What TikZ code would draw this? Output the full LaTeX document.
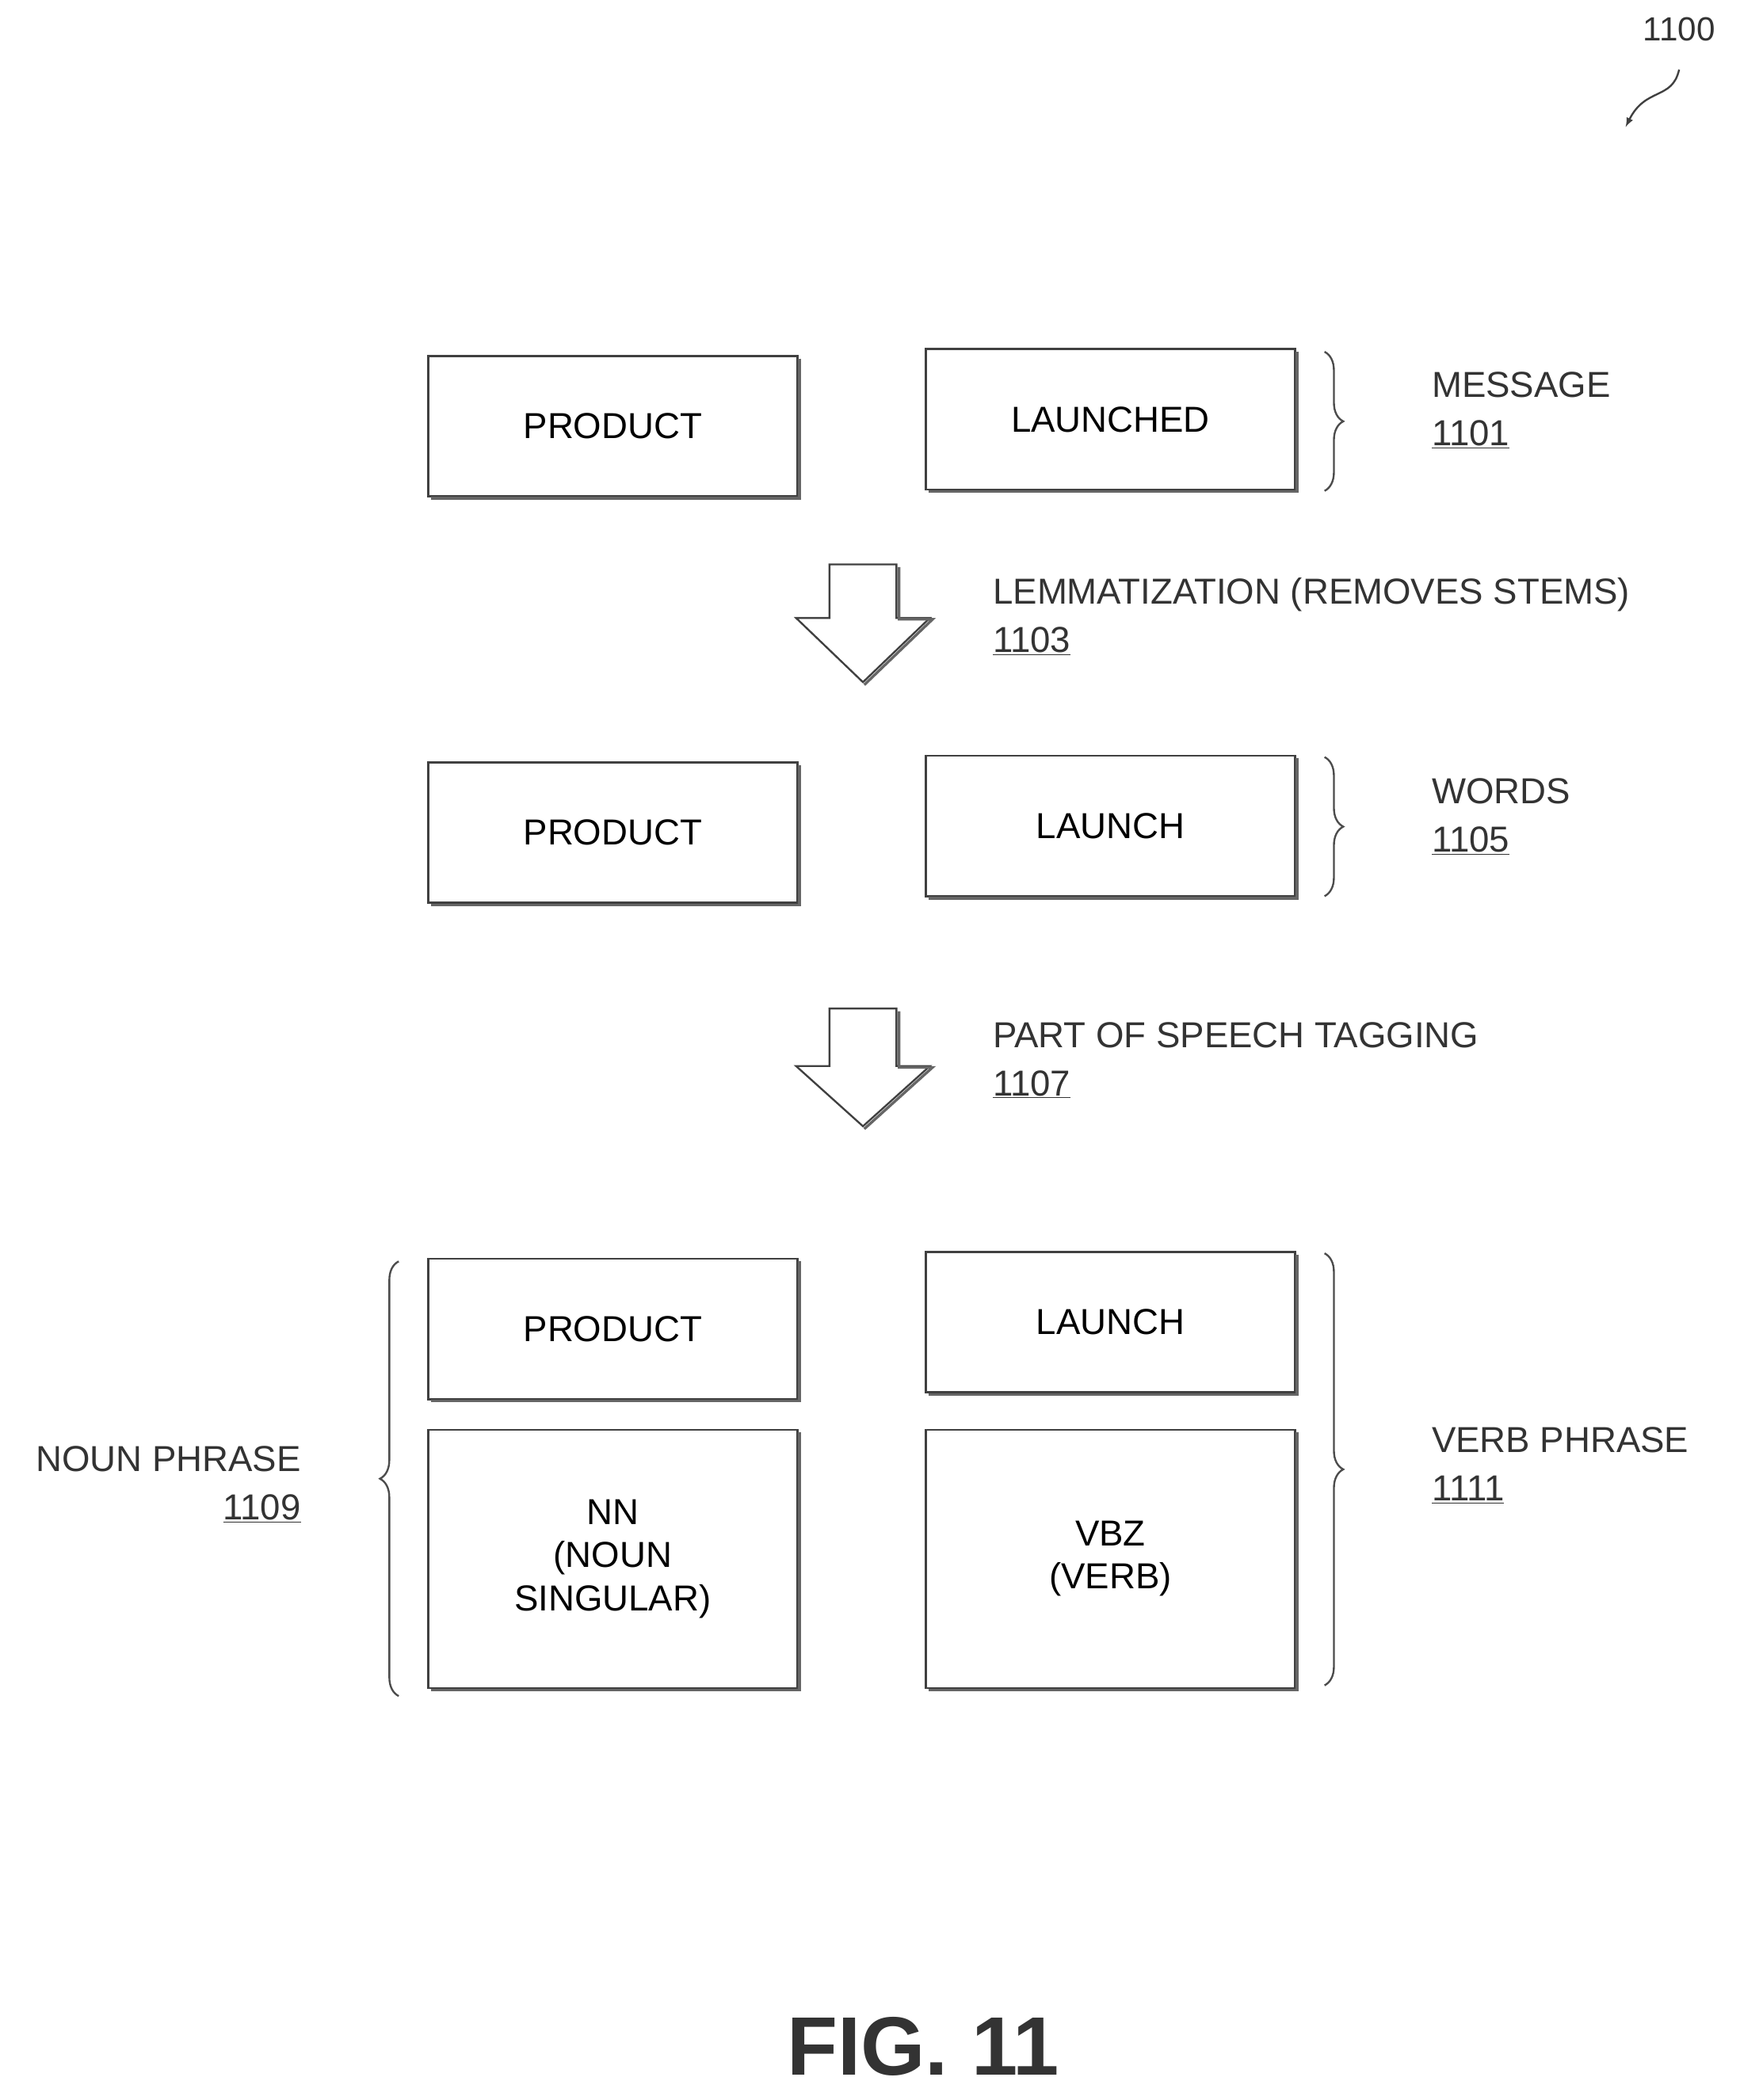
\documentclass[tikz,border=0pt]{standalone}
\usepackage{fontspec}
\setmainfont{Liberation Sans}
\usetikzlibrary{decorations.pathreplacing}
\begin{document}
\begin{tikzpicture}[x=1pt,y=-1pt,
  box/.style={draw=black!75,line width=1.6pt,fill=white,inner sep=0pt,font=\fontsize{27}{32}\selectfont,align=center},
  lbl/.style={font=\fontsize{27}{36}\selectfont,align=left,anchor=north west,inner sep=0pt,text=black!80},
  brc/.style={draw=black!70,line width=1.4pt,decorate,decoration={brace,amplitude=14pt}},
  barrow/.style={draw=black!75,line width=1.4pt,fill=white}]
\useasboundingbox (0,0) rectangle (1300,1570);
\newcommand{\bx}[6]{\node[box,minimum width=#4-#2,minimum height=#5-#3] (#1) at ({(#2+#4)/2},{(#3+#5)/2}) {#6};
  \draw[black!60,line width=2pt] ({#2+2},{#5+1.5}) -- ({#4+1.5},{#5+1.5}) -- ({#4+1.5},{#3+2});}
\bx{p1}{320}{266}{596}{371}{PRODUCT}
\bx{l1}{692}{261}{968}{366}{LAUNCHED}
\bx{p2}{320}{570}{596}{675}{PRODUCT}
\bx{l2}{692}{565}{968}{670}{LAUNCH}
\bx{p3}{320}{941}{596}{1046}{PRODUCT}
\bx{l3}{692}{936}{968}{1041}{LAUNCH}
\bx{nn}{320}{1069}{596}{1262}{NN\\(NOUN\\SINGULAR)}
\bx{vb}{692}{1069}{968}{1262}{VBZ\\(VERB)}
\draw[brc] (990,263) -- (990,367);
\draw[brc] (990,566) -- (990,670);
\draw[brc] (990,937) -- (990,1260);
\draw[brc] (298,1268) -- (298,943);
\node[lbl] (m) at (1070,278) {MESSAGE\\\underline{1101}};
\node[lbl] (w) at (1070,582) {WORDS\\\underline{1105}};
\node[lbl] (vp) at (1070,1067) {VERB PHRASE\\\underline{1111}};
\node[lbl,anchor=north east,align=right] (np) at (225,1081) {NOUN PHRASE\\\underline{1109}};
\node[lbl] (lm) at (742,432) {LEMMATIZATION (REMOVES STEMS)\\\underline{1103}};
\node[lbl] (ps) at (742,764) {PART OF SPEECH TAGGING\\\underline{1107}};
\draw[barrow] (620,422) -- (670,422) -- (670,462) -- (695,462) -- (645,510) -- (595,462) -- (620,462) -- cycle;
\draw[black!60,line width=2pt] (672,424) -- (672,463) -- (697,463) -- (646,512);
\draw[barrow] (620,754) -- (670,754) -- (670,797) -- (695,797) -- (645,842) -- (595,797) -- (620,797) -- cycle;
\draw[black!60,line width=2pt] (672,756) -- (672,798) -- (697,798) -- (646,844);
\node[font=\bfseries\fontsize{62}{70}\selectfont,text=black!80] (fig) at (690,1530) {FIG. 11};
\node[font=\fontsize{25}{30}\selectfont,text=black!80] (n) at (1255,22) {1100};
\coordinate (a0) at (1255,52);
\coordinate (a1) at (1215,95);
\draw[black!75,line width=1.4pt,-latex] (a0) .. controls (1250,75) and (1230,65) .. (a1);
\end{tikzpicture}
\end{document}
